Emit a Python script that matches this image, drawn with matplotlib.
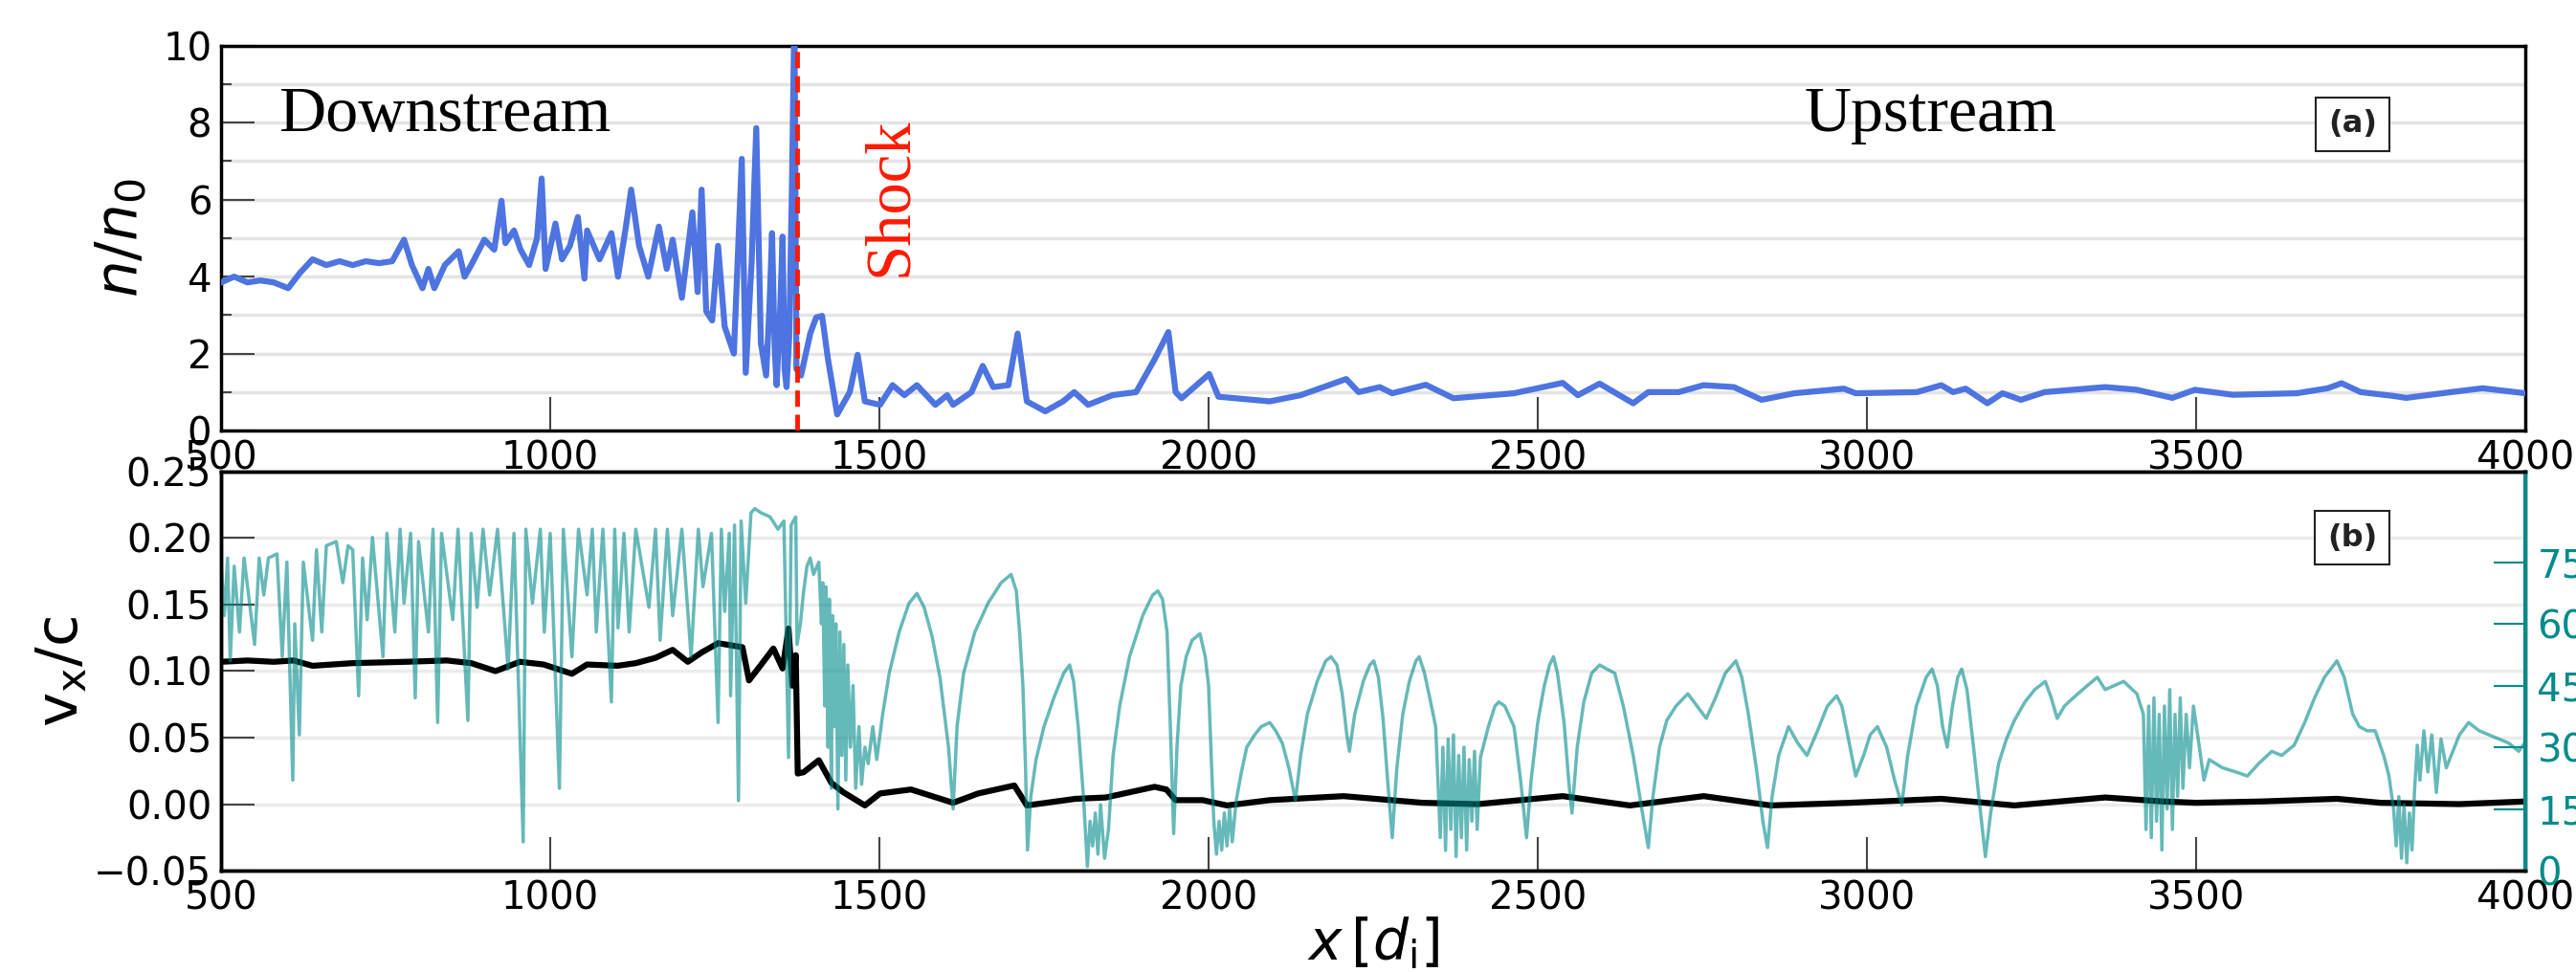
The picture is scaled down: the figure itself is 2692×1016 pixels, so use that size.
import numpy as np
import matplotlib.pyplot as plt
from matplotlib.ticker import MultipleLocator, FuncFormatter

plt.rcParams['mathtext.fontset'] = 'dejavusans'

# density profile n/n0 along x
n_x = [500, 520, 540, 560, 580, 602, 620, 639, 660, 680, 700, 720, 740, 760, 778, 790,
       806, 815, 824, 840, 861, 870, 880, 900, 915, 926, 932, 945, 955, 968, 980, 987,
       993, 1008, 1018, 1030, 1042, 1052, 1056, 1075, 1093, 1103, 1115, 1123, 1135, 1149,
       1165, 1177, 1186, 1200, 1216, 1224, 1230, 1237, 1246, 1255, 1265, 1279, 1291, 1297,
       1306, 1313, 1320, 1328, 1333, 1337, 1341, 1344, 1349, 1353, 1356, 1359, 1363, 1367,
       1371, 1374, 1381, 1395, 1404,
       1413, 1422, 1436, 1455, 1467, 1478, 1501, 1520, 1538, 1557, 1585, 1603, 1612, 1640,
       1657, 1673, 1696, 1710, 1724, 1752, 1779, 1796, 1817, 1854, 1890, 1918, 1939, 1950,
       1959, 2001, 2015, 2093, 2140, 2209, 2228, 2260, 2279, 2330, 2372, 2464, 2538, 2561,
       2594, 2645, 2668, 2714, 2752, 2798, 2840, 2890, 2965, 2983, 3076, 3113, 3131, 3150,
       3183, 3206, 3234, 3270, 3362, 3410, 3464, 3498, 3556, 3653, 3700, 3721, 3750, 3800,
       3819, 3897, 3935, 4000]
n_ratio = [3.85, 4.0, 3.85, 3.9, 3.85, 3.7, 4.1, 4.45, 4.3, 4.4, 4.3, 4.4, 4.35, 4.4, 4.96, 4.3,
           3.7, 4.2, 3.7, 4.3, 4.66, 4.0, 4.3, 4.96, 4.7, 5.97, 4.87, 5.2, 4.7, 4.3, 5.0, 6.55,
           4.2, 5.38, 4.45, 4.8, 5.55, 3.95, 5.2, 4.45, 5.13, 4.0, 5.3, 6.26, 4.8, 4.0,
           5.3, 4.2, 4.96, 3.45, 5.67, 3.6, 6.26, 3.1, 2.86, 4.8, 2.7, 2.0, 7.06, 1.5,
           4.4, 7.86, 2.27, 1.43, 3.2, 5.13, 2.1, 1.18, 3.0, 5.04, 1.6, 1.13, 2.4, 6.13,
           11.0, 1.6, 1.43, 2.52, 2.94,
           2.98, 1.85, 0.42, 1.0, 1.97, 0.76, 0.67, 1.18, 0.92, 1.18, 0.67, 0.92, 0.67, 1.0,
           1.68, 1.13, 1.18, 2.52, 0.76, 0.5, 0.76, 1.0, 0.67, 0.92, 1.0, 1.85, 2.56, 1.0,
           0.84, 1.47, 0.88, 0.76, 0.92, 1.34, 1.0, 1.13, 0.97, 1.19, 0.84, 0.97, 1.24, 0.92,
           1.22, 0.71, 1.0, 1.0, 1.18, 1.13, 0.8, 0.97, 1.09, 0.97, 1.0, 1.18, 1.0, 1.09,
           0.71, 0.97, 0.8, 1.0, 1.13, 1.06, 0.85, 1.06, 0.93, 0.97, 1.1, 1.23, 1.0, 0.9,
           0.85, 1.02, 1.1, 0.97]

# bulk velocity v_x/c
vx_pos = [500, 540, 580, 610, 639, 700, 780, 843, 880, 917, 954, 990, 1033, 1056, 1102,
          1130, 1160, 1186, 1209, 1230, 1255, 1292, 1302, 1316, 1339, 1353, 1362, 1368,
          1373, 1376, 1385, 1408, 1427, 1445, 1478, 1501, 1548, 1612, 1650, 1705, 1724,
          1798, 1844, 1918, 1936, 1950, 1991, 2028, 2093, 2205, 2325, 2409, 2538, 2640,
          2752, 2854, 2974, 3113, 3224, 3362, 3450, 3500, 3600, 3714, 3780, 3900, 4000]
vx_c = [0.107, 0.108, 0.107, 0.108, 0.104, 0.106, 0.107, 0.108, 0.106, 0.100, 0.107, 0.105,
        0.098, 0.105, 0.104, 0.106, 0.110, 0.116, 0.107, 0.114, 0.121, 0.118, 0.093, 0.102,
        0.117, 0.102, 0.132, 0.089, 0.112, 0.023, 0.024, 0.033, 0.016, 0.009, -0.001,
        0.008, 0.011, 0.001, 0.008, 0.014, -0.001, 0.004, 0.005, 0.013, 0.011, 0.003,
        0.003, -0.001, 0.003, 0.006, 0.001, 0.000, 0.006, -0.001, 0.006, -0.001, 0.001,
        0.004, -0.001, 0.005, 0.002, 0.001, 0.002, 0.004, 0.001, 0.000, 0.002]

# angle on the right-hand axis (degrees)
theta_pos = [500, 505, 510, 514, 520, 528, 535, 551, 558, 565, 572, 585, 593, 600, 609, 612,
             619, 625, 639, 645, 653, 660, 675, 685, 693, 700, 709, 715, 722, 730, 746, 752,
             764, 772, 778, 788, 795, 800, 815, 822, 829, 835, 852, 860, 875, 880, 889, 898,
             908, 920, 936, 945, 959, 963, 973, 985, 991, 1000, 1014, 1020, 1033, 1043, 1056,
             1064, 1070, 1080, 1093, 1098, 1103, 1112, 1120, 1130, 1150, 1160, 1167, 1178,
             1186, 1200, 1214, 1225, 1232, 1245, 1255, 1260, 1265, 1272, 1274, 1280, 1286,
             1290, 1297, 1305, 1311, 1320, 1334, 1346, 1355, 1362, 1366, 1373, 1375,
             1380, 1385, 1390, 1395, 1400, 1408, 1412, 1414, 1417, 1419, 1422, 1424, 1427,
             1429, 1432, 1434, 1437, 1440, 1443, 1446, 1449, 1452, 1456, 1460, 1464, 1469,
             1473, 1478, 1483, 1490, 1496, 1505, 1515, 1530, 1545, 1557, 1568, 1580, 1592,
             1605, 1612, 1618, 1628, 1645, 1665, 1685, 1700, 1708, 1713, 1718, 1722, 1725,
             1730, 1738, 1750, 1765, 1780, 1789, 1795, 1802, 1810, 1816, 1820, 1824, 1828,
             1832, 1836, 1842, 1848, 1855, 1865, 1880, 1900, 1915, 1923, 1930, 1937, 1942,
             1947, 1952, 1958, 1966, 1975, 1987, 1995, 2000, 2004, 2008, 2012, 2016, 2020,
             2024, 2028, 2032, 2036, 2042, 2050, 2058, 2070, 2080, 2093, 2102, 2112, 2122,
             2132, 2140, 2150, 2165, 2178, 2186, 2195, 2203, 2210, 2214, 2222, 2235, 2245,
             2251, 2258, 2265, 2272, 2279, 2286, 2295, 2305, 2315, 2320, 2328, 2336, 2345,
             2352, 2356, 2360, 2364, 2368, 2372, 2376, 2380, 2384, 2388, 2392, 2396, 2400,
             2404, 2408, 2413, 2425, 2435, 2441, 2450, 2464, 2474, 2483, 2490, 2500, 2510,
             2518, 2524, 2530, 2540, 2547, 2552, 2560, 2570, 2582, 2594, 2605, 2617, 2630,
             2645, 2658, 2668, 2675, 2685, 2696, 2710, 2728, 2742, 2756, 2770, 2785, 2801,
             2810, 2820, 2832, 2842, 2849, 2856, 2866, 2881, 2895, 2909, 2925, 2940, 2954,
             2962, 2972, 2983, 2995, 3005, 3016, 3030, 3042, 3053, 3062, 3075, 3090, 3099,
             3107, 3115, 3122, 3130, 3138, 3144, 3152, 3162, 3172, 3180, 3188, 3200, 3212,
             3224, 3240, 3255, 3271, 3280, 3289, 3300, 3317, 3335, 3350, 3362, 3390, 3410,
             3420, 3424, 3428, 3432, 3436, 3440, 3444, 3448, 3452, 3456, 3460, 3464, 3468,
             3472, 3476, 3480, 3485, 3490, 3496, 3505, 3512, 3520, 3540, 3560, 3578, 3595,
             3615, 3630, 3649, 3665, 3680, 3695, 3714, 3725, 3738, 3748, 3760, 3772, 3785,
             3793, 3800, 3804, 3808, 3812, 3816, 3820, 3824, 3828, 3832, 3836, 3840, 3846,
             3852, 3858, 3865, 3872, 3880, 3890, 3900, 3914, 3930, 3945, 3960, 3975, 3990,
             3999]
theta_deg = [75, 62, 76, 51, 74, 58, 76, 55, 76, 67, 76, 77, 52, 75, 22, 60,
             33, 75, 56, 78, 58, 79, 80, 70, 79, 78, 42.5, 76, 61, 81, 52, 82,
             58, 83, 65, 82, 42, 80, 58, 83, 36, 82, 61, 83, 36.5, 82, 64, 83,
             67, 83, 49, 82, 7, 83, 65, 83, 58, 82, 20, 83, 52, 83, 67,
             83, 58, 83, 41, 83, 59, 82, 58, 83, 64, 83, 56, 83,
             62, 83, 52, 83, 69, 82, 36, 83, 63, 82, 42.5, 84, 17,
             85, 65, 87, 88, 87, 86, 83, 85, 27.5, 84, 86, 55,
             60, 68, 74, 76, 72, 75, 60, 70, 40, 69, 30, 66, 20,
             62, 35, 60, 15, 58, 28, 55, 22, 50, 30, 45, 20, 35,
             21, 30, 26, 35, 27, 38, 48, 58, 65, 67.4, 64, 57, 47,
             30, 15, 35, 48, 58, 65, 70, 72, 68, 58, 45, 25, 5,
             18, 27, 35, 42, 48, 50, 46, 35, 18, 1, 12, 6, 14,
             4, 16, 3, 10, 28, 40, 52, 62, 67, 68, 66, 58, 35,
             9, 30, 45, 52, 56, 57.6, 52, 45, 28, 12, 4, 12, 5,
             14, 6, 15, 7, 17, 24, 30, 33, 35, 36, 34, 31, 25,
             17, 28, 38, 46, 51, 52, 50, 43, 33, 29, 38, 46, 50,
             51, 47, 37, 22, 8, 25, 38, 46, 51, 52, 48, 42, 35,
             8, 30, 4.9, 32, 10, 33, 3.4, 28, 8, 30, 5, 27, 12,
             29, 10, 27.5, 35, 40, 41, 40, 35, 22, 8, 22, 36, 45,
             50, 52, 48, 36, 22, 14, 30, 41, 48, 50, 49, 48, 40,
             28, 15, 5.6, 18, 30, 36.5, 40, 43, 40, 37, 42, 48, 51,
             47, 38, 25, 12, 5.6, 18, 28, 35, 31, 28, 34, 40, 42.5,
             40, 32, 23, 28, 33, 35, 30, 22, 16, 28, 40, 47, 49,
             45, 35, 30, 40, 47, 49, 44, 30, 15, 3.4, 14, 26, 32,
             36.5, 41, 44, 46, 42, 37, 40, 42.5, 45, 47, 44, 46, 43,
             38, 10, 40, 8, 42, 12, 38, 5, 40, 15, 44, 10, 38,
             18, 42, 20, 38, 25, 40, 30, 22, 27, 25, 24, 23, 26,
             29, 28, 30.5, 36, 42, 47, 51, 47, 38, 35, 34, 34, 28,
             23, 15, 6, 18, 3, 16, 1.9, 14, 5, 20, 30.5, 22, 34,
             24, 33, 19, 32, 25, 29, 33, 36, 34, 33, 32, 31, 29,
             31]

shock_x = 1375
xticks = [500, 1000, 1500, 2000, 2500, 3000, 3500, 4000]

blue = '#4d74e0'
teal = 'darkcyan'
tick_kw = dict(direction='in', width=1.5, color='#444444', labelsize=29, pad=7)

fig = plt.figure(figsize=(26.92, 10.16), dpi=100)
ax1 = fig.add_axes([0.0858, 0.557, 0.8945, 0.396])
ax2 = fig.add_axes([0.0858, 0.1043, 0.8945, 0.4105])

# top panel: density
ax1.plot(n_x, n_ratio, color=blue, lw=4.5, zorder=3)
ax1.axvline(shock_x, color='#ff1a00', lw=3.5, ls=(0, (3.5, 1.7)), zorder=4)
ax1.set_xlim(500, 4000)
ax1.set_ylim(0, 10)
ax1.set_xticks(xticks)
ax1.yaxis.set_major_locator(MultipleLocator(2))
ax1.yaxis.set_minor_locator(MultipleLocator(1))
ax1.grid(which='both', axis='y', color='#e4e4e4', lw=2.5)
ax1.set_axisbelow(True)
ax1.tick_params(axis='both', which='major', length=25, top=False, right=False, **tick_kw)
ax1.tick_params(axis='y', which='minor', direction='in', length=8, width=1.5,
                color='#444444', right=False)
ax1.set_ylabel(r'$n/n_0$', fontsize=44)
ax1.yaxis.set_label_coords(-0.031, 0.5)

ax1.text(0.025, 0.778, 'Downstream', transform=ax1.transAxes, fontsize=49,
         family='Liberation Serif', va='baseline', ha='left')
ax1.text(0.687, 0.778, 'Upstream', transform=ax1.transAxes, fontsize=49,
         family='Liberation Serif', va='baseline', ha='left')
ax1.text(0.2907, 0.607, 'Shock', transform=ax1.transAxes, fontsize=48, color='#ff1a00',
         family='Liberation Serif', rotation=90, va='center', ha='center')
ax1.text(0.925, 0.796, '(a)', transform=ax1.transAxes, fontsize=23, weight='bold',
         color='#222222', ha='center', va='center',
         bbox=dict(boxstyle='square,pad=0.4', fc='white', ec='#222222', lw=1.5))

# bottom panel: velocity and angle
ax2.plot(vx_pos, vx_c, color='black', lw=4.5, zorder=3)
ax2.set_xlim(500, 4000)
ax2.set_ylim(-0.05, 0.25)
ax2.set_xticks(xticks)
ax2.set_yticks(np.arange(-0.05, 0.26, 0.05))
ax2.yaxis.set_major_formatter(FuncFormatter(lambda v, p: f'{v:.2f}'.replace('-', '\u2212')))
ax2.grid(axis='y', color='#ececec', lw=2.5)
ax2.set_axisbelow(True)
ax2.tick_params(axis='both', length=25, top=False, right=False, **tick_kw)
ax2.set_ylabel(r'$\mathrm{v_x/c}$', fontsize=44)
ax2.yaxis.set_label_coords(-0.057, 0.5)
ax2.set_xlabel(r'$x\,[d_{\rm i}]$', fontsize=42)
ax2.xaxis.set_label_coords(0.5, -0.113)

axt = ax2.twinx()
axt.plot(theta_pos, theta_deg, color=teal, alpha=0.6, lw=2.5)
axt.set_ylim(0, 97)
axt.set_yticks([0, 15, 30, 45, 60, 75])
axt.tick_params(axis='y', direction='in', length=24, width=1.5, colors=teal,
                labelsize=29, pad=9)
axt.spines['right'].set_color(teal)

ax2.text(0.925, 0.834, '(b)', transform=ax2.transAxes, fontsize=23, weight='bold',
         color='#222222', ha='center', va='center', zorder=5,
         bbox=dict(boxstyle='square,pad=0.4', fc='white', ec='#222222', lw=1.5))

for ax in (ax1, ax2, axt):
    for sp in ax.spines.values():
        sp.set_linewidth(2.5)
axt.spines['right'].set_linewidth(3)

fig.savefig('out.png', dpi=100)
